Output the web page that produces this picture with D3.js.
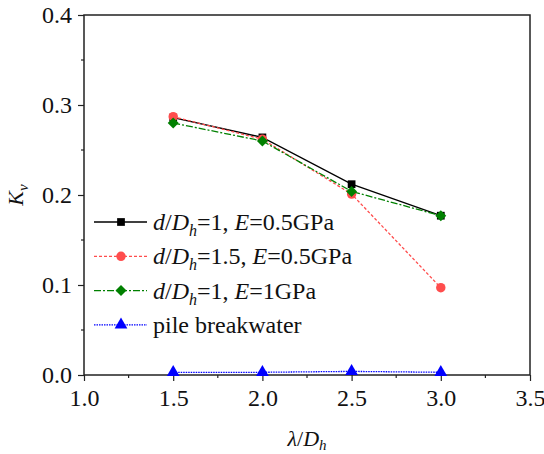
<!DOCTYPE html>
<html>
<head>
<meta charset="utf-8">
<script src="https://cdn.jsdelivr.net/npm/d3@7"></script>
<style>
body { margin: 0; background: #fff; }
svg text { font-family: "Liberation Serif", "Times New Roman", serif !important; }
</style>
</head>
<body>
<div id="chart"></div>
<script>
// data
const xVals = [1.5, 2.0, 2.5, 3.0];
const kvD1E05 = [0.286, 0.264, 0.212, 0.177];
const kvD15E05 = [0.287, 0.262, 0.201, 0.097];
const kvD1E1 = [0.280, 0.260, 0.204, 0.177];
const kvPile = [0.003, 0.003, 0.004, 0.003];
const xTicks = [1.0, 1.5, 2.0, 2.5, 3.0, 3.5];
const yTicks = [0.0, 0.1, 0.2, 0.3, 0.4];

const svgWidth = 544, svgHeight = 454;
const margin = {top: 15, right: 14, bottom: 79, left: 84};
const width = svgWidth - margin.left - margin.right;
const height = svgHeight - margin.top - margin.bottom;
const serif = "Liberation Serif, Times New Roman, serif";

const svg = d3.select("#chart").append("svg")
  .attr("width", svgWidth)
  .attr("height", svgHeight)
  .attr("font-family", serif);

const g = svg.append("g")
  .attr("transform", `translate(${margin.left}, ${margin.top})`);

const x = d3.scaleLinear().domain([1.0, 3.5]).range([0, width]);
const y = d3.scaleLinear().domain([0, 0.4]).range([height, 0]);

// minor ticks
const xMinor = d3.range(1.25, 3.5, 0.5);
const yMinor = d3.range(0.05, 0.4, 0.1);

g.selectAll(".xminor").data(xMinor).enter().append("line")
  .attr("x1", d => x(d)).attr("x2", d => x(d))
  .attr("y1", height).attr("y2", height + 3)
  .attr("stroke", "#222").attr("stroke-width", 1.2);
g.selectAll(".yminor").data(yMinor).enter().append("line")
  .attr("y1", d => y(d)).attr("y2", d => y(d))
  .attr("x1", 0).attr("x2", -3)
  .attr("stroke", "#222").attr("stroke-width", 1.2);

const xAxis = g.append("g")
  .attr("transform", `translate(0, ${height})`)
  .call(d3.axisBottom(x).tickValues(xTicks).tickFormat(d3.format(".1f")).tickSizeInner(6).tickSizeOuter(0).tickPadding(8));
const yAxis = g.append("g")
  .call(d3.axisLeft(y).tickValues(yTicks).tickFormat(d3.format(".1f")).tickSizeInner(6).tickSizeOuter(0).tickPadding(6));

[xAxis, yAxis].forEach(a => {
  a.attr("font-family", serif).attr("font-size", 24);
  a.selectAll("text").attr("fill", "#111");
  a.selectAll("line").attr("stroke", "#222").attr("stroke-width", 1.2);
  a.select(".domain").remove();
});

// frame
g.append("rect")
  .attr("x", 0).attr("y", 0)
  .attr("width", width).attr("height", height)
  .attr("fill", "none")
  .attr("stroke", "#222").attr("stroke-width", 1.5);

const series = [
  {vals: kvD1E05, color: "#000000", dash: null, marker: d3.symbolSquare, size: 60, rot: 0,
   label: [["d", "i"], ["/", ""], ["D", "i"], ["h", "sub"], ["=1, ", ""], ["E", "i"], ["=0.5GPa", ""]]},
  {vals: kvD15E05, color: "#ff4d4d", dash: "3,2", marker: d3.symbolCircle, size: 70, rot: 0,
   label: [["d", "i"], ["/", ""], ["D", "i"], ["h", "sub"], ["=1.5, ", ""], ["E", "i"], ["=0.5GPa", ""]]},
  {vals: kvD1E1, color: "#008000", dash: "7,2,2,2", marker: d3.symbolSquare, size: 60, rot: 45,
   label: [["d", "i"], ["/", ""], ["D", "i"], ["h", "sub"], ["=1, ", ""], ["E", "i"], ["=1GPa", ""]]},
  {vals: kvPile, color: "#0000ff", dash: "1.5,1", marker: d3.symbolTriangle, size: 70, rot: 0,
   label: [["pile breakwater", ""]]}
];

const line = d3.line().x((d, i) => x(xVals[i])).y(d => y(d));

series.forEach(s => {
  g.append("path")
    .datum(s.vals)
    .attr("d", line)
    .attr("fill", "none")
    .attr("stroke", s.color)
    .attr("stroke-width", 1.3)
    .attr("stroke-dasharray", s.dash);
  g.selectAll(null).data(s.vals).enter().append("path")
    .attr("d", d3.symbol().type(s.marker).size(s.size))
    .attr("transform", (d, i) => `translate(${x(xVals[i])}, ${y(d)}) rotate(${s.rot})`)
    .attr("fill", s.color);
});

// legend
const legend = svg.append("g").attr("transform", "translate(94, 222)");
series.forEach((s, i) => {
  const row = legend.append("g").attr("transform", `translate(0, ${i * 34.3})`);
  row.append("line")
    .attr("x1", 0).attr("x2", 53).attr("y1", 0).attr("y2", 0)
    .attr("stroke", s.color).attr("stroke-width", 1.3)
    .attr("stroke-dasharray", s.dash);
  row.append("path")
    .attr("d", d3.symbol().type(s.marker).size(s.size))
    .attr("transform", `translate(27, 0) rotate(${s.rot})`)
    .attr("fill", s.color);
  const t = row.append("text")
    .attr("x", 59).attr("y", 8)
    .attr("font-size", 24).attr("fill", "#111");
  let lowered = false;
  s.label.forEach(([txt, st]) => {
    const ts = t.append("tspan").text(txt);
    if (st === "i") ts.attr("font-style", "italic");
    if (st === "sub") {
      ts.attr("font-style", "italic").attr("font-size", 16).attr("dy", 6);
      lowered = true;
    } else if (lowered) {
      ts.attr("dy", -6);
      lowered = false;
    }
  });
});

// axis titles
const yt = svg.append("text")
  .attr("transform", "translate(23, 195) rotate(-90)")
  .attr("text-anchor", "middle")
  .attr("font-size", 22).attr("fill", "#111");
yt.append("tspan").attr("font-style", "italic").text("K");
yt.append("tspan").attr("font-style", "italic").attr("font-size", 15).attr("dy", 5).text("v");

const xt = svg.append("text")
  .attr("x", 307).attr("y", 446)
  .attr("text-anchor", "middle")
  .attr("font-size", 22).attr("fill", "#111");
xt.append("tspan").attr("font-style", "italic").text("λ");
xt.append("tspan").text("/");
xt.append("tspan").attr("font-style", "italic").text("D");
xt.append("tspan").attr("font-style", "italic").attr("font-size", 15).attr("dy", 4).text("h");
</script>
</body>
</html>
